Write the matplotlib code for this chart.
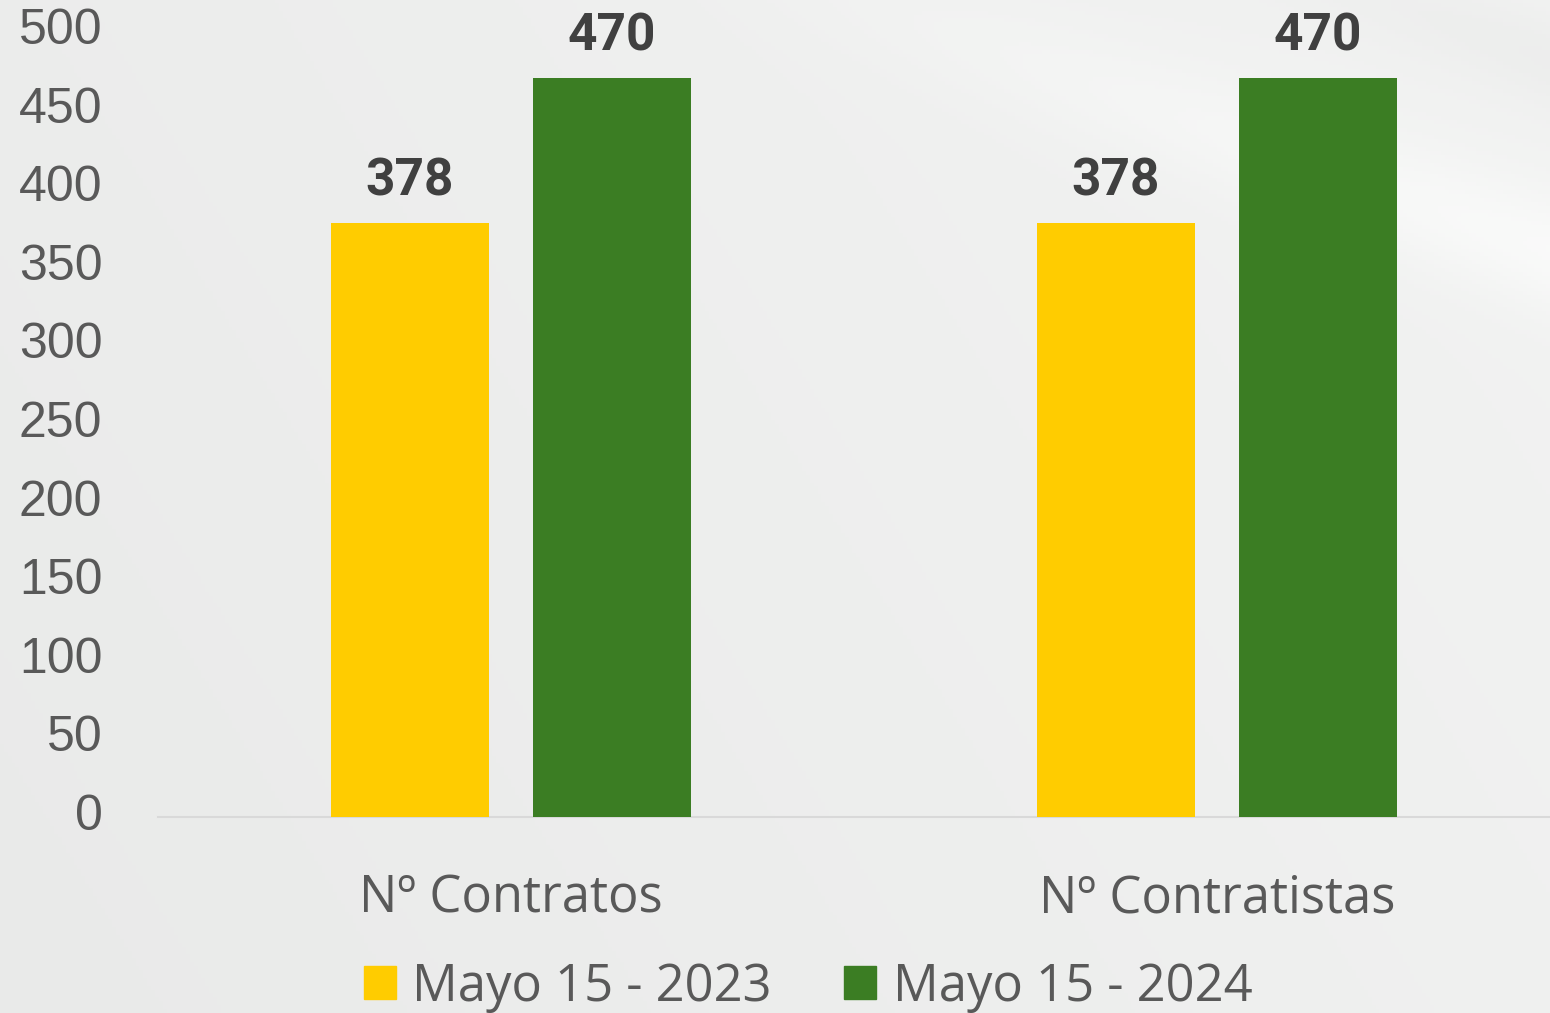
import numpy as np
import matplotlib
matplotlib.use("Agg")
import matplotlib.pyplot as plt
import matplotlib.transforms as mtransforms
from matplotlib.patches import Patch

# ---- data ----
categories = ["Nº Contratos", "Nº Contratistas"]
series_names = ["Mayo 15 - 2023", "Mayo 15 - 2024"]
values_2023 = [378, 378]
values_2024 = [470, 470]
y_ticks = [0, 50, 100, 150, 200, 250, 300, 350, 400, 450, 500]

YELLOW = "#FFCC00"
GREEN = "#3B7D23"
LABEL_COL = "#404040"
TICK_COL = "#595959"

W, H = 1550, 1013
fig = plt.figure(figsize=(W / 100, H / 100), dpi=100)

# background: light grey with a soft diagonal swoosh
bg = fig.add_axes([0, 0, 1, 1], zorder=-5)
xx, yy = np.meshgrid(np.linspace(0, 1, 400), np.linspace(0, 1, 260))
base = 0.915 + 0.025 * xx + 0.01 * (1 - yy)
d = (yy - (0.55 * (xx - 0.55))) / 0.06
swoosh = 0.03 * np.exp(-d ** 2) * np.clip((xx - 0.4) / 0.6, 0, 1)
dark = 0.02 * np.exp(-((yy - (0.55 * (xx - 0.75) - 0.08)) / 0.05) ** 2) * np.clip((xx - 0.7) / 0.3, 0, 1)
img = np.clip(base + swoosh - dark, 0, 1)
rgb = np.dstack([img, img + 0.003, img])
bg.imshow(np.clip(rgb, 0, 1), aspect="auto", extent=[0, 1, 0, 1], origin="upper")
bg.axis("off")

# main axes
y0_px, y500_px = 817, 31
ax = fig.add_axes([158 / W, (H - y0_px) / H, (W - 158) / W, (y0_px - y500_px) / H])
ax.set_facecolor("none")

x = np.arange(len(categories))
bw = 0.224
off = 0.143
b1 = ax.bar(x - off, values_2023, bw, color=YELLOW, label=series_names[0], zorder=3)
b2 = ax.bar(x + off, values_2024, bw, color=GREEN, label=series_names[1], zorder=3)

for bars in (b1, b2):
    for r in bars:
        ax.annotate(f"{int(r.get_height())}", (r.get_x() + r.get_width() / 2, r.get_height()),
                    xytext=(0, 20), textcoords="offset points", ha="center", va="baseline",
                    fontsize=37, fontweight="bold", color=LABEL_COL, family="Roboto",
                    annotation_clip=False)

ax.set_xlim(-0.5, 1.4717)
ax.set_ylim(0, 500)
ax.set_yticks(y_ticks)
ax.set_xticks(x)
ax.set_xticklabels(categories)

for s in ["top", "right", "left"]:
    ax.spines[s].set_visible(False)
ax.spines["bottom"].set_color("#d9d9d9")
ax.spines["bottom"].set_linewidth(1.5)

ax.tick_params(axis="y", length=0, pad=40, labelsize=36, labelcolor=TICK_COL)
ax.tick_params(axis="x", length=0, pad=41, labelsize=36.5, labelcolor=TICK_COL)
shift_up = mtransforms.ScaledTranslation(0, 5 / 100, fig.dpi_scale_trans)
for t in ax.get_yticklabels():
    t.set_family("Liberation Sans")
    t.set_transform(t.get_transform() + shift_up)
for t in ax.get_xticklabels():
    t.set_family("Open Sans")

handles = [Patch(color=YELLOW), Patch(color=GREEN)]
fig.legend(handles, series_names, loc="center", bbox_to_anchor=(808 / W, 1 - 987 / H),
           ncol=2, frameon=False, handlelength=0.63, handleheight=0.63,
           handletextpad=0.32, columnspacing=1.44, labelcolor=TICK_COL,
           prop={"family": "Open Sans", "size": 36.5})

fig.savefig("out.png", dpi=100)
